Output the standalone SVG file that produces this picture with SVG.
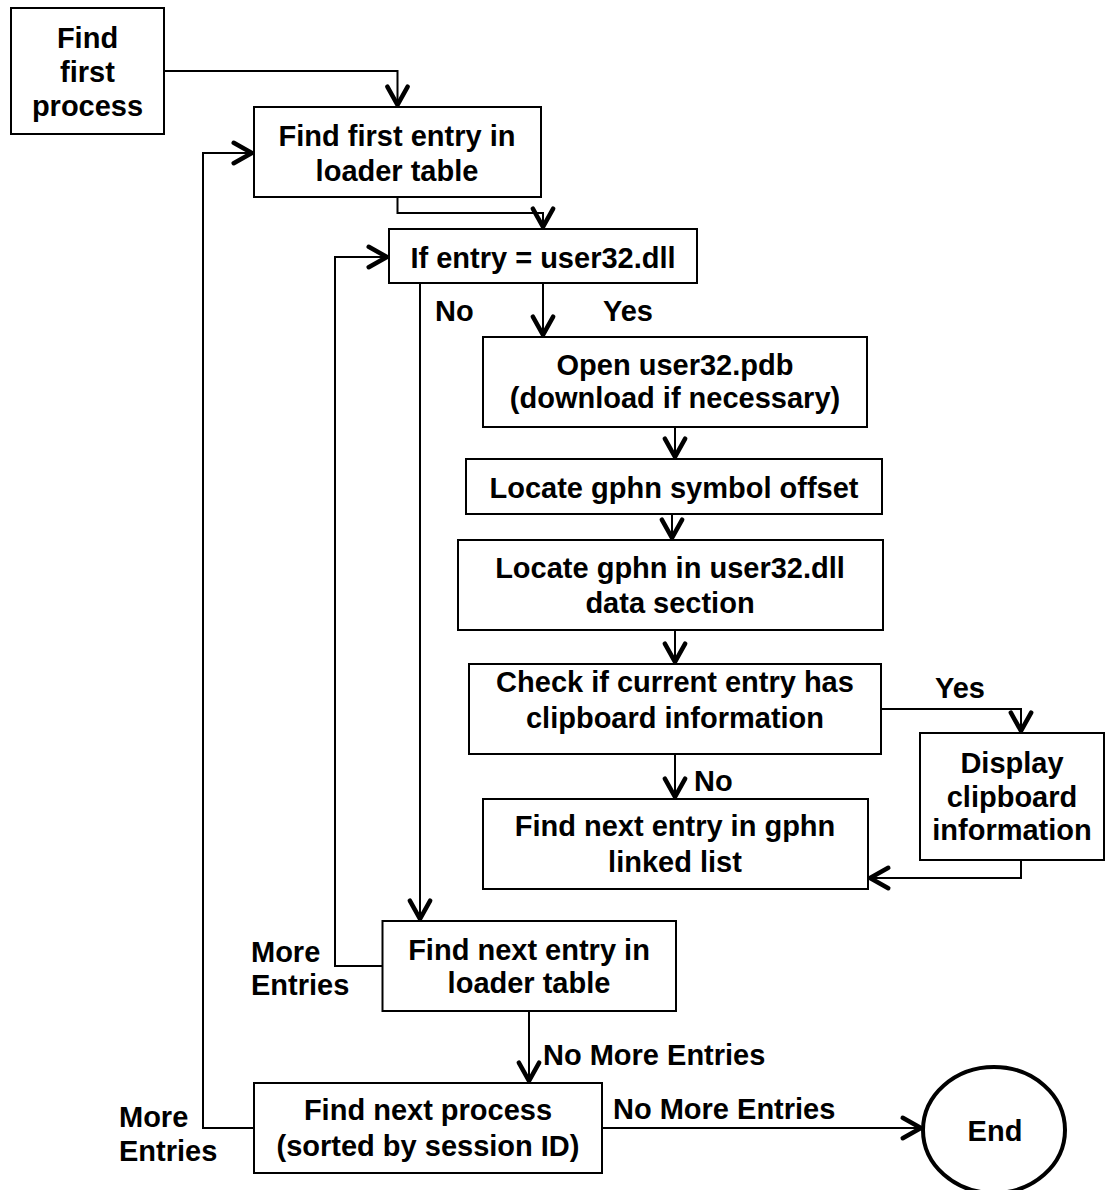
<svg xmlns="http://www.w3.org/2000/svg" width="1105" height="1190" viewBox="0 0 1105 1190">
<style>
  .box { fill: #ffffff; stroke: #000000; stroke-width: 2; }
  .end { fill: #ffffff; stroke: #000000; stroke-width: 4; }
  .t { font-family: "Liberation Sans", Arial, sans-serif; font-weight: bold; font-size: 29px; fill: #000000; text-anchor: middle; }
  .lbl { font-family: "Liberation Sans", Arial, sans-serif; font-weight: bold; font-size: 29px; fill: #000000; }
  .c { fill: none; stroke: #000000; stroke-width: 2; marker-end: url(#arr); }
</style>
<defs>
  <marker id="arr" markerUnits="userSpaceOnUse" markerWidth="30" markerHeight="30" viewBox="-24 -14 28 28" refX="0" refY="0" orient="auto" overflow="visible">
    <path d="M -18 -9.5 L -1 0 L -18 9.5" fill="none" stroke="#000000" stroke-width="4.2" stroke-linecap="round" stroke-linejoin="miter"/>
  </marker>
</defs>
<rect width="1105" height="1190" fill="#ffffff"/>

<g id="connectors">
  <path class="c" d="M164 71 H397.5 V106"/>
  <path class="c" d="M397.5 197 V213 H543 V228"/>
  <path class="c" d="M543 283 V336"/>
  <path class="c" d="M420 283 V920"/>
  <path class="c" d="M675 427 V458"/>
  <path class="c" d="M672 514 V539"/>
  <path class="c" d="M675 630 V663"/>
  <path class="c" d="M881 709 H1021 V732"/>
  <path class="c" d="M675 754 V798"/>
  <path class="c" d="M1021 860 V878 H869"/>
  <path class="c" d="M382.5 966 H335 V257 H388"/>
  <path class="c" d="M529 1011 V1082"/>
  <path class="c" d="M254 1128 H203 V153 H253"/>
  <path class="c" d="M602 1128 H922"/>
</g>

<g id="labels">
  <text class="lbl" x="435" y="321">No</text>
  <text class="lbl" x="603" y="321">Yes</text>
  <text class="lbl" x="935" y="698">Yes</text>
  <text class="lbl" x="694" y="791">No</text>
  <text class="lbl" x="251" y="962">More</text>
  <text class="lbl" x="251" y="995">Entries</text>
  <text class="lbl" x="543" y="1065">No More Entries</text>
  <text class="lbl" x="119" y="1127">More</text>
  <text class="lbl" x="119" y="1161">Entries</text>
  <text class="lbl" x="613" y="1119">No More Entries</text>
</g>

<g id="find_first_process">
  <rect class="box" x="11" y="8" width="153" height="126"/>
  <text class="t" x="87.5" y="48">Find</text>
  <text class="t" x="87.5" y="82">first</text>
  <text class="t" x="87.5" y="116">process</text>
</g>
<g id="find_first_entry">
  <rect class="box" x="254" y="107" width="287" height="90"/>
  <text class="t" x="397" y="146">Find first entry in</text>
  <text class="t" x="397" y="181">loader table</text>
</g>
<g id="if_entry">
  <rect class="box" x="389" y="229" width="308" height="54"/>
  <text class="t" x="543" y="268">If entry = user32.dll</text>
</g>
<g id="open_pdb">
  <rect class="box" x="483" y="337" width="384" height="90"/>
  <text class="t" x="675" y="375">Open user32.pdb</text>
  <text class="t" x="675" y="408">(download if necessary)</text>
</g>
<g id="locate_offset">
  <rect class="box" x="466" y="459" width="416" height="55"/>
  <text class="t" x="674" y="498">Locate gphn symbol offset</text>
</g>
<g id="locate_gphn">
  <rect class="box" x="458" y="540" width="425" height="90"/>
  <text class="t" x="670" y="578">Locate gphn in user32.dll</text>
  <text class="t" x="670" y="613">data section</text>
</g>
<g id="check_clipboard">
  <rect class="box" x="469" y="664" width="412" height="90"/>
  <text class="t" x="675" y="692">Check if current entry has</text>
  <text class="t" x="675" y="728">clipboard information</text>
</g>
<g id="display_clipboard">
  <rect class="box" x="920" y="733" width="184" height="127"/>
  <text class="t" x="1012" y="773">Display</text>
  <text class="t" x="1012" y="807">clipboard</text>
  <text class="t" x="1012" y="840">information</text>
</g>
<g id="next_gphn">
  <rect class="box" x="483" y="799" width="385" height="90"/>
  <text class="t" x="675" y="836">Find next entry in gphn</text>
  <text class="t" x="675" y="872">linked list</text>
</g>
<g id="next_loader">
  <rect class="box" x="382.5" y="921" width="293.5" height="90"/>
  <text class="t" x="529" y="960">Find next entry in</text>
  <text class="t" x="529" y="993">loader table</text>
</g>
<g id="next_process">
  <rect class="box" x="254" y="1083" width="348" height="90"/>
  <text class="t" x="428" y="1120">Find next process</text>
  <text class="t" x="428" y="1156">(sorted by session ID)</text>
</g>
<g id="end">
  <ellipse class="end" cx="994" cy="1130" rx="71" ry="63"/>
  <text class="t" x="995" y="1141">End</text>
</g>
</svg>
